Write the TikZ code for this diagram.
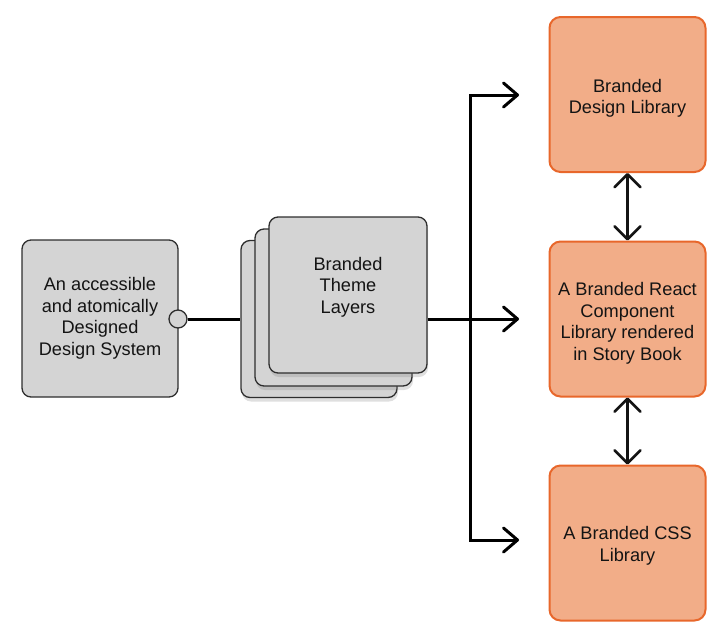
\documentclass[tikz,border=0pt]{standalone}
\usepackage{fontspec}
\setmainfont{Liberation Sans}
\usetikzlibrary{arrows.meta,shadows}
\definecolor{grayfill}{HTML}{D4D4D4}
\definecolor{grayline}{HTML}{2E2E2E}
\definecolor{orfill}{HTML}{F2AD88}
\definecolor{orline}{HTML}{E8672B}
\definecolor{ink}{HTML}{141414}
\tikzset{
  txt/.style={font=\fontsize{18.2}{21.5}\selectfont, text=ink, align=center},
  graybox/.style={draw=grayline, line width=1.3pt, fill=grayfill, rounded corners=9pt, inner sep=0pt},
  layerbox/.style={graybox, drop shadow={shadow xshift=1pt, shadow yshift=-4pt, opacity=0.25}},
  orbox/.style={draw=orline, line width=2pt, fill=orfill, rounded corners=11pt, minimum width=156pt, minimum height=155pt, inner sep=0pt},
  conn/.style={draw=black, line width=3pt, -{Straight Barb[length=14pt, width=24pt, line width=3pt, round]}},
  plain/.style={draw=black, line width=3pt},
  darr/.style={draw=ink, line width=2.6pt, {Straight Barb[length=13pt, width=26pt, line width=2.6pt, round]}-{Straight Barb[length=13pt, width=26pt, line width=2.6pt, round]}},
}
\begin{document}
\begin{tikzpicture}[x=1pt,y=-1pt]
\useasboundingbox (0,0) rectangle (719,630);
% left box
\node[graybox, txt, minimum width=156pt, minimum height=157pt] (ds) at (100,318.5)
  {An accessible\\and atomically\\Designed\\Design System};
\node[draw=grayline, line width=1.3pt, fill=grayfill, circle, minimum size=18pt, inner sep=0pt] (port) at (178,319) {};
% stack of layers
\node[layerbox, minimum width=156pt, minimum height=157pt] (back) at (319,319) {};
\node[layerbox, minimum width=157pt, minimum height=157pt] (midl) at (333.5,307.5) {};
\node[layerbox, minimum width=158pt, minimum height=156pt] (front) at (348,295) {};
\node[txt] (layertxt) at (348,287) {Branded\\Theme\\Layers};
% right boxes
\node[orbox] (top) at (627.5,94.5) {};
\node[orbox] (mid) at (627.5,319) {};
\node[orbox] (bot) at (627.5,543) {};
\node[txt] (toptxt) at (627.5,98.5) {Branded\\Design Library};
\node[txt] (midtxt) at (627.5,323.5) {A Branded React\\Component\\Library rendered\\in Story Book};
\node[txt] (bottxt) at (627.5,546) {A Branded CSS\\Library};
% connectors
\coordinate (j) at (470,319);
\coordinate (a1) at (519,95);
\coordinate (a2) at (519,319);
\coordinate (a3) at (519,540);
\draw[plain] (port.east) -- (back.west |- port.east);
\draw[plain] (front.east |- j) -- (j);
\draw[conn] (j) |- (a1);
\draw[conn] (j) |- (a3);
\draw[conn] (j) -- (a2);
\draw[darr] (top.south) -- (mid.north);
\draw[darr] (mid.south) -- (bot.north);
\end{tikzpicture}
\end{document}
